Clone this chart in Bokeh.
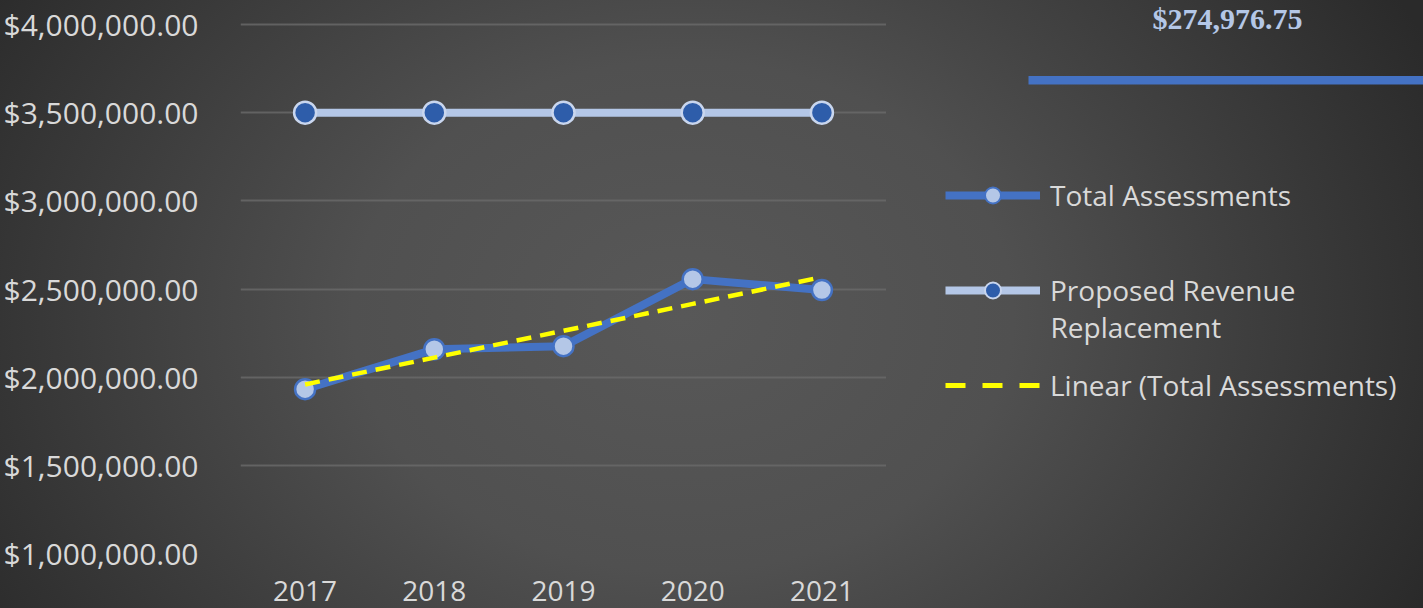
import numpy as np
from bokeh.plotting import figure
from bokeh.layouts import row
from bokeh.models import (FactorRange, Range1d, SingleIntervalTicker, NumeralTickFormatter,
                          Legend, LegendItem, Label, GlobalInlineStyleSheet, ColumnDataSource)
from bokeh.embed import file_html
from bokeh.resources import INLINE

# ---- data ----
years = ["2017", "2018", "2019", "2020", "2021"]
total_assessments = [1932000, 2158000, 2176000, 2556000, 2494000]
proposed_revenue_replacement = [3500000, 3500000, 3500000, 3500000, 3500000]
highlight_value = "$274,976.75"

# linear trendline of Total Assessments (as Excel's "Linear" trendline)
_slope, _intercept = np.polyfit(np.arange(len(years)), total_assessments, 1)
linear_total = [float(_intercept + _slope * i) for i in range(len(years))]

src = ColumnDataSource(dict(year=years, total=total_assessments,
                            proposed=proposed_revenue_replacement, trend=linear_total))

# styles
TOT_LINE = dict(line_color="#4472c4", line_width=8)
TOT_PTS = dict(size=20, fill_color="#b4c7e7", line_color="#4472c4", line_width=2.5)
PROP_LINE = dict(line_color="#b4c7e7", line_width=8)
PROP_PTS = dict(size=22, fill_color="#2e5daa", line_color="#c9d6ee", line_width=2.5)
TREND = dict(line_color="#ffff00", line_width=4.5, line_dash="15 9")
TXT = "#d9d9d9"

# layout: frame from y=0 to y=553 px; $1M..$4M spans 553-24 = 529 px
FRAME_H = 553
Y_LO, Y_HI = 1000000, 4000000
y_top = Y_HI + 24 * (Y_HI - Y_LO) / (FRAME_H - 24)

# ---- main chart ----
p = figure(width=886, height=608, x_range=FactorRange(*years, range_padding=0),
           y_range=Range1d(Y_LO, y_top), output_backend="svg", toolbar_location=None,
           title=None, min_border_left=238, min_border_right=0, min_border_top=0,
           min_border_bottom=608 - FRAME_H)
p.background_fill_alpha = 0
p.border_fill_alpha = 0
p.outline_line_color = None
p.stylesheets = [GlobalInlineStyleSheet(css="""
html { height: 100%; }
body { background: radial-gradient(ellipse 58% 105% at 48% 52%, #585858 0%, #505050 40%, #2a2a2a 100%) fixed; }
""")]

p.yaxis.ticker = SingleIntervalTicker(interval=500000)
p.yaxis.formatter = NumeralTickFormatter(format="$0,0.00")
for ax in (p.xaxis[0], p.yaxis[0]):
    ax.axis_line_color = None
    ax.major_tick_line_color = None
    ax.minor_tick_line_color = None
    ax.major_tick_in = 0
    ax.major_tick_out = 0
    ax.major_label_text_color = TXT
    ax.major_label_text_font = "Open Sans"
p.yaxis.major_label_text_font_size = "30px"
p.yaxis.major_label_standoff = 38
p.xaxis.major_label_text_font_size = "28px"
p.xaxis.major_label_standoff = 27

p.xgrid.grid_line_color = None
p.ygrid.grid_line_color = "#6a6a6a"
p.ygrid.grid_line_width = 2
p.ygrid.grid_line_alpha = 0.8

p.line("year", "proposed", source=src, **PROP_LINE)
p.scatter("year", "proposed", source=src, **PROP_PTS)
p.line("year", "total", source=src, **TOT_LINE)
p.scatter("year", "total", source=src, **TOT_PTS)
p.line("year", "trend", source=src, **TREND)

# ---- right panel: legend and highlight (pixel coordinates of the page) ----
q = figure(width=537, height=608, x_range=Range1d(886, 1423), y_range=Range1d(FRAME_H, 0),
           output_backend="svg", toolbar_location=None, title=None,
           x_axis_type=None, y_axis_type=None, min_border_left=0, min_border_right=0,
           min_border_top=0, min_border_bottom=608 - FRAME_H)
q.grid.grid_line_color = None
q.background_fill_alpha = 0
q.border_fill_alpha = 0
q.outline_line_color = None

nan = float("nan")
dummy = ColumnDataSource(dict(x=[nan], y=[nan]))
g_tot_l = q.line("x", "y", source=dummy, **TOT_LINE)
g_tot_p = q.scatter("x", "y", source=dummy, size=13, fill_color="#b4c7e7",
                    line_color="#4472c4", line_width=2)
g_prop_l = q.line("x", "y", source=dummy, **PROP_LINE)
g_prop_p = q.scatter("x", "y", source=dummy, size=14, fill_color="#2e5daa",
                     line_color="#c9d6ee", line_width=2)
g_trend = q.line("x", "y", source=dummy, line_color="#ffff00", line_width=5, line_dash="20 17")

legend = Legend(items=[
    LegendItem(label="Total Assessments", renderers=[g_tot_l, g_tot_p]),
    LegendItem(label="Proposed Revenue", renderers=[g_prop_l, g_prop_p]),
    LegendItem(label="Linear (Total Assessments)", renderers=[g_trend]),
], location=(59, FRAME_H - 405))
legend.background_fill_alpha = 0
legend.border_line_color = None
legend.padding = 0
legend.margin = 0
legend.spacing = 55
legend.glyph_width = 95
legend.glyph_height = 40
legend.label_height = 40
legend.label_standoff = 10
legend.label_text_font = "Open Sans"
legend.label_text_font_size = "28px"
legend.label_text_color = TXT
q.add_layout(legend, "center")

q.add_layout(Label(x=1050, y=326, text="Replacement", text_font="Open Sans",
                   text_font_size="28px", text_color=TXT, text_baseline="middle",
                   text_align="left"))

q.quad(left=[1028], right=[1423], top=[75.5], bottom=[84], fill_color="#4472c4", line_color=None)
q.add_layout(Label(x=1227, y=18, text=highlight_value, text_font="Liberation Serif",
                   text_font_style="bold", text_font_size="30px", text_color="#b4c7e7",
                   text_baseline="middle", text_align="center"))

layout = row(p, q, spacing=0)
open("out.html", "w").write(file_html(layout, INLINE))
